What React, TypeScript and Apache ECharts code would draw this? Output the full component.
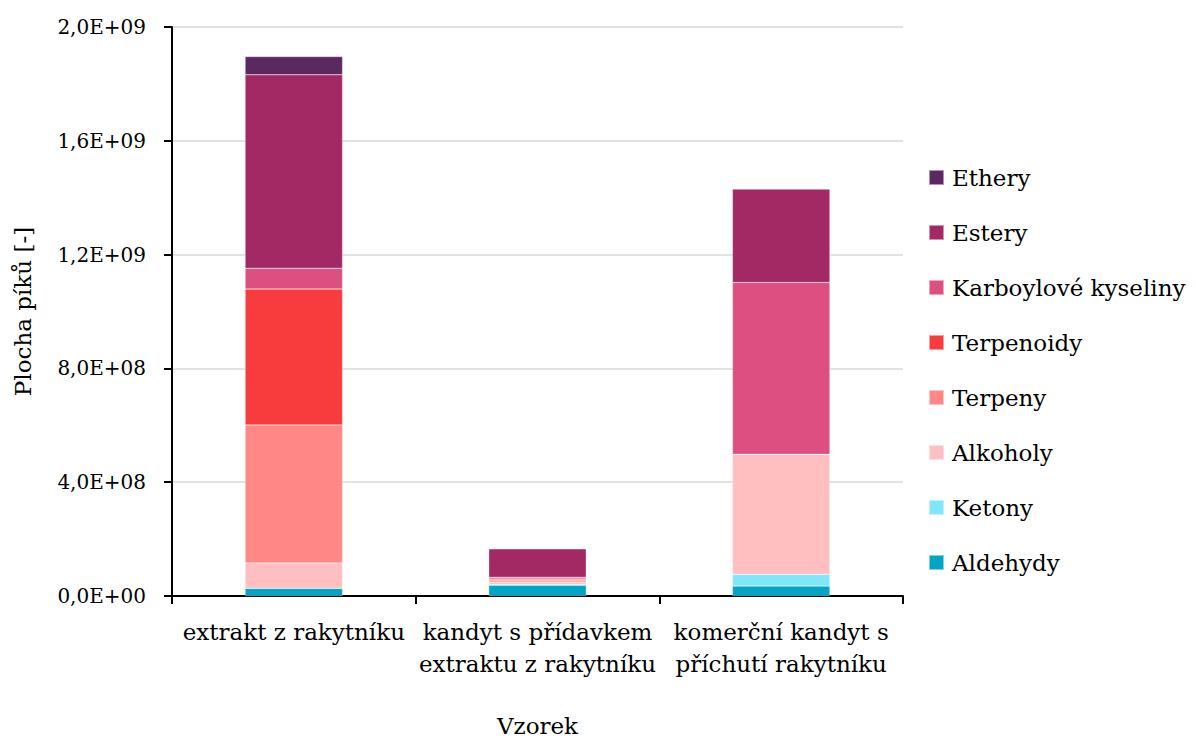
import React, { useEffect, useRef } from "react";
import * as echarts from "echarts";

const categories = [
  "extrakt z rakytníku",
  "kandyt s přídavkem\nextraktu z rakytníku",
  "komerční kandyt s\npříchutí rakytníku",
];

const aldehydy = [2.7e7, 3.8e7, 3.5e7];
const ketony = [0, 3e6, 4.1e7];
const alkoholy = [8.9e7, 8e6, 4.22e8];
const terpeny = [4.85e8, 7e6, 0];
const terpenoidy = [4.78e8, 4e6, 0];
const karboylove = [7.3e7, 6e6, 6.04e8];
const estery = [6.8e8, 1.0e8, 3.29e8];
const ethery = [6.4e7, 0, 0];

const seriesNames = [
  "Aldehydy",
  "Ketony",
  "Alkoholy",
  "Terpeny",
  "Terpenoidy",
  "Karboylové kyseliny",
  "Estery",
  "Ethery",
];
const seriesValues = [aldehydy, ketony, alkoholy, terpeny, terpenoidy, karboylove, estery, ethery];
const seriesColors = [
  "#03a4c4",
  "#80e6fc",
  "#ffbfc1",
  "#ff8786",
  "#f83c3e",
  "#de4f81",
  "#a32965",
  "#5c2860",
];

const FONT = "DejaVu Serif";

function fmt(v: number): string {
  if (v === 0) return "0,0E+00";
  const e = Math.floor(Math.log10(v) + 1e-9);
  const m = v / Math.pow(10, e);
  return m.toFixed(1).replace(".", ",") + "E+" + String(e).padStart(2, "0");
}

export default function App() {
  const ref = useRef<HTMLDivElement>(null);
  useEffect(() => {
    if (!ref.current) return;
    const chart = echarts.init(ref.current, undefined, { renderer: "svg" });
    const ts = { fontFamily: FONT, fontSize: 23, color: "#000" };
    chart.setOption({
      animation: false,
      backgroundColor: "#ffffff",
      textStyle: { fontFamily: FONT, color: "#000" },
      grid: { left: 172, right: 294, top: 27, bottom: 142, containLabel: false },
      legend: {
        orient: "vertical",
        left: 923,
        top: 158,
        icon: "rect",
        itemWidth: 15,
        itemHeight: 15,
        itemGap: 26,
        data: [...seriesNames].reverse(),
        textStyle: { ...ts, lineHeight: 29, padding: [0, 0, 0, 3] },
      },
      xAxis: {
        type: "category",
        data: categories,
        name: "Vzorek",
        nameLocation: "middle",
        nameGap: 118,
        nameTextStyle: ts,
        axisLine: { show: true, lineStyle: { color: "#000", width: 2 } },
        axisTick: { show: true, alignWithLabel: false, length: 8, lineStyle: { color: "#000", width: 2 } },
        axisLabel: { ...ts, lineHeight: 32, margin: 20, interval: 0 },
      },
      yAxis: {
        type: "value",
        min: 0,
        max: 2e9,
        interval: 4e8,
        name: "Plocha píků [-]",
        nameLocation: "middle",
        nameGap: 138,
        nameRotate: 90,
        nameTextStyle: ts,
        axisLine: { show: true, lineStyle: { color: "#000", width: 2 } },
        axisTick: { show: true, inside: false, length: 8, lineStyle: { color: "#000", width: 2 } },
        axisLabel: { fontFamily: FONT, fontSize: 20, color: "#000", margin: 26, formatter: (v: number) => fmt(v) },
        splitLine: { show: true, lineStyle: { color: "#d9d9d9", width: 1.5 } },
      },
      series: seriesNames.map((name, i) => ({
        name,
        type: "bar",
        stack: "total",
        barWidth: "40%",
        data: seriesValues[i],
        itemStyle: { color: seriesColors[i], borderColor: "rgba(255,255,255,0.5)", borderWidth: 0.5 },
      })),
    });
    return () => chart.dispose();
  }, []);
  return <div ref={ref} style={{ width: 1197, height: 742, position: "absolute", left: 0, top: 0 }} />;
}
